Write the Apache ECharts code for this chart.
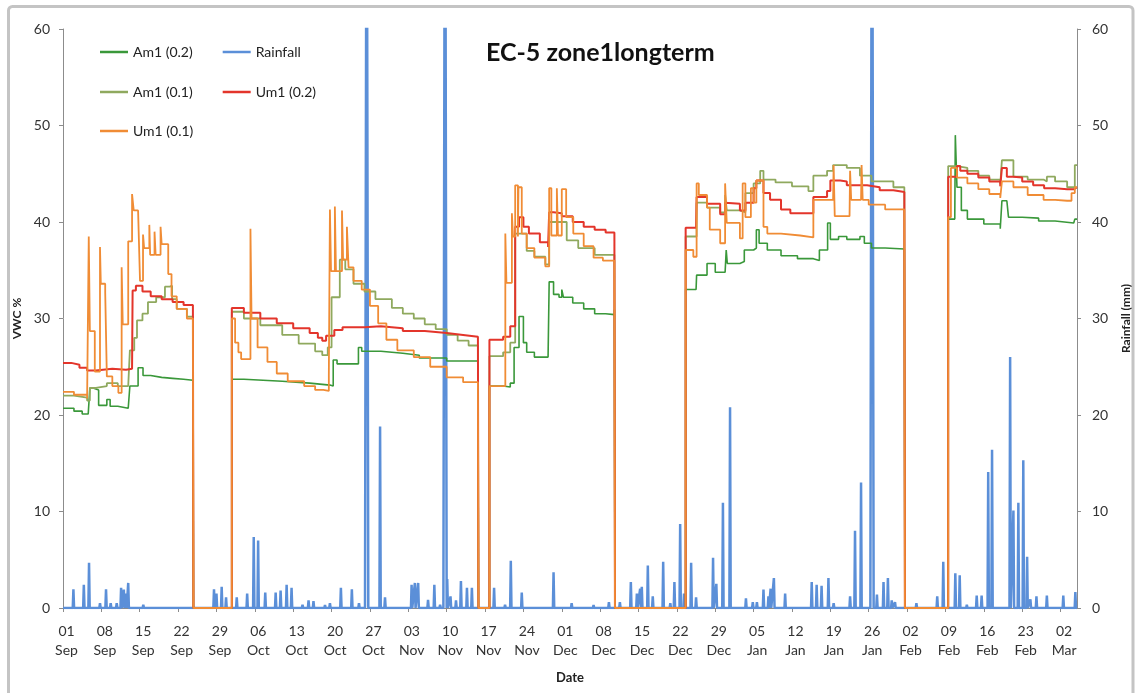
<!DOCTYPE html>
<html><head><meta charset="utf-8">
<script src="https://cdn.jsdelivr.net/npm/echarts@6/dist/echarts.min.js"></script>
<style>html,body{margin:0;padding:0;background:#fff}#c{width:1141px;height:693px}</style>
</head><body><div id="c"></div>
<script>
// x values are days since 01 Sep
const tickLabels = ['01\nSep','08\nSep','15\nSep','22\nSep','29\nSep','06\nOct','13\nOct','20\nOct','27\nOct','03\nNov','10\nNov','17\nNov','24\nNov','01\nDec','08\nDec','15\nDec','22\nDec','29\nDec','05\nJan','12\nJan','19\nJan','26\nJan','02\nFeb','09\nFeb','16\nFeb','23\nFeb','02\nMar'];

const am1_02 = [
 [0,20.7],[2,20.4],[3.5,20.1],[4.6,20.0],[4.9,22.8],[5.5,22.6],[6.5,21.0],[8,21.6],[8.6,20.9],[10,20.7],[11.9,20.7],[12.2,23.0],[13.7,24.9],[14.6,24.1],[16,23.9],[18,23.8],[20,23.7],[22,23.6],[23.7,23.5],[23.8,0],
 [30.8,23.7],[33,23.5],[40,23.3],[45,23.1],[48.7,23.0],[49.3,25.7],[50,25.3],[53.9,27.0],[54.5,26.6],[58,26.4],[62,26.2],[65,25.9],[70,25.6],[75.7,25.2],[75.8,0],
 [77.8,23.0],[80.3,22.9],[81.6,23.3],[82.3,27.0],[83.2,30.2],[84,27.5],[84.6,26.5],[86,26.0],[88.5,26.0],[88.7,33.8],[89.5,32.5],[90.5,32.2],[91,33.0],[91.3,32.2],[93,31.6],[95,31.0],[97,30.5],[99,30.4],[100.6,30.9],[100.7,0],
 [113.6,33.0],[115.5,33.0],[115.6,34.5],[117.5,35.7],[119,34.8],[120.8,34.7],[121,37.1],[121.2,35.7],[123.5,35.9],[124.3,37.1],[126,37.3],[126.5,39.2],[127,37.8],[128.5,37.1],[131,36.5],[134,36.2],[136.9,36.0],[138,37.1],[139.5,39.9],[140,38.2],[141.5,38.5],[143,38.2],[145.4,38.5],[146.2,37.8],[147.5,37.3],[150,37.2],[153.5,37.0],[153.6,0],
 [161.5,40.3],[162.7,40.3],[162.8,49.0],[163.1,43.6],[163.9,41.2],[165,40.3],[168,39.8],[171,39.3],[171.3,42.2],[172.2,42.0],[172.5,40.5],[175,40.4],[178,40.1],[181,39.9],[184.4,39.8],[184.6,40.3],[185,40.3]
];
const am1_01 = [
 [0,22.0],[2,21.8],[4.4,21.5],[4.9,22.8],[6,23.0],[8,23.3],[10,23.0],[11.9,23.2],[12.2,26.7],[13,28.0],[13.5,29.8],[14.5,30.5],[15.5,31.7],[17,32.2],[18.6,33.3],[19.5,33.4],[19.9,32.0],[20.75,31.0],[22.6,30.2],[23.7,30.0],[23.8,0],
 [30.8,30.7],[33,30.0],[36,29.3],[40,28.3],[43,27.4],[46,26.6],[47.3,26.2],[48.3,27.0],[49,32.2],[50.5,36.1],[51.5,35.1],[53,33.6],[55,32.8],[57,32.0],[60,31.1],[62,30.5],[64,30.0],[66,29.4],[68,28.9],[70,28.3],[72,27.7],[74,27.2],[75.7,26.9],[75.8,0],
 [77.8,26.1],[80.3,26.5],[81.6,27.5],[82.5,38.8],[84.6,37.0],[86,36.4],[88,35.6],[88.7,40.0],[91.9,38.1],[94,37.3],[97,36.6],[100.6,36.0],[100.7,0],
 [113.6,38.5],[115.6,42.0],[117.5,41.5],[119.9,41.0],[120.8,42.8],[121.1,41.2],[123.5,41.0],[124.5,43.0],[126,44.0],[127.2,45.3],[127.8,44.4],[130,44.1],[133,43.7],[136,43.2],[136.9,44.8],[139.4,45.3],[140.5,45.9],[143,45.6],[145.4,44.8],[147.5,44.2],[151.5,43.6],[153.5,43.5],[153.6,0],
 [161.5,45.8],[163.1,45.6],[165,45.3],[167,44.8],[169,44.4],[171,43.9],[171.3,46.4],[172.2,46.4],[173.4,44.7],[176,44.4],[178.9,44.2],[179.5,44.7],[181,44.2],[183.2,43.6],[184.6,45.9],[185,45.9]
];
const um1_02 = [
 [0,25.4],[1.5,25.2],[3,24.9],[4.4,24.6],[6,24.8],[9,24.7],[11.5,24.8],[12.6,25.0],[12.7,32.9],[13.3,33.4],[14.5,32.8],[16,32.3],[18,32.0],[20,31.7],[22,31.4],[23.7,31.2],[23.8,0],
 [30.8,31.1],[33,30.6],[36,30.0],[39,29.5],[42,29.0],[45,28.5],[46.5,28.0],[47.3,27.7],[48,28.2],[49.5,28.8],[51,29.1],[55,29.2],[58,29.0],[62,28.7],[66,28.5],[70,28.3],[73,28.1],[75.7,28.0],[75.8,0],
 [77.8,27.8],[80.3,28.1],[81.6,29.2],[82.5,39.5],[83.2,40.5],[84,39.5],[85,38.8],[87,37.9],[88.5,37.4],[88.7,41.0],[89.5,40.9],[91,40.6],[93,40.0],[95,39.5],[97,39.2],[99,38.9],[100.6,38.7],[100.7,0],
 [113.6,39.4],[115.5,39.4],[115.6,42.6],[117.5,41.9],[119.9,40.8],[120.8,42.0],[121.1,41.9],[123.5,41.2],[124.5,42.0],[126,43.5],[126.5,44.3],[127.8,43.0],[129,42.3],[131,41.3],[132.7,40.9],[134.5,40.9],[136.9,42.6],[139.4,43.2],[140,44.3],[141.8,44.2],[143,43.8],[145.4,43.8],[146.7,43.6],[149,43.3],[151.5,43.1],[153.5,42.9],[153.6,0],
 [161.5,44.7],[163.1,45.8],[163.7,45.3],[165,45.0],[167,44.6],[169,44.2],[171,43.7],[171.3,45.6],[172.2,44.7],[173.4,44.6],[175,44.2],[177,43.8],[179,43.5],[181,43.4],[183.2,43.4],[184.5,43.6],[185,43.6]
];
const um1_01 = [
 [0,22.4],[2,22.1],[4.4,21.7],[4.7,38.5],[4.9,28.7],[5.8,24.5],[6.75,37.4],[6.9,33.6],[7.7,32.7],[8.0,24.0],[9,23.0],[10.1,22.3],[10.7,35.3],[10.9,29.4],[11.9,38.0],[12.6,42.9],[12.9,41.2],[13.7,41.2],[14.05,33.9],[14.6,38.7],[14.8,37.3],[15.75,39.7],[15.9,36.6],[16.7,39.0],[16.9,36.6],[17.8,39.5],[18.0,37.7],[19.2,34.6],[19.8,32.3],[20.75,31.0],[22.6,30.0],[23.7,29.6],[23.8,0],
 [30.8,30.0],[31.4,27.5],[32,26.5],[32.5,25.8],[34.2,39.3],[34.4,30.0],[35.5,27.0],[37.3,25.5],[39,24.3],[41,23.5],[44,23.0],[46,22.6],[47.5,22.5],[48.5,24.0],[48.7,41.3],[48.9,34.9],[49.6,41.6],[49.8,34.9],[50.9,41.2],[51.1,36.1],[51.8,39.5],[52.1,35.3],[53,33.9],[54.5,33.0],[56,31.3],[57.5,29.5],[59,27.8],[61,26.7],[64,26.0],[67,25.0],[70,23.9],[73,23.4],[75.7,23.2],[75.8,0],
 [77.8,23.0],[80.7,38.8],[80.9,33.7],[81.9,40.9],[82.1,38.5],[82.5,43.8],[83.0,38.5],[83.1,43.6],[83.7,38.8],[84.6,37.3],[86,36.3],[88,35.4],[88.7,43.5],[89.1,38.6],[90.1,43.5],[90.3,38.6],[91,43.4],[91.8,40.5],[93.1,38.8],[95,37.5],[96.8,36.3],[98.5,36.0],[100.6,35.8],[100.7,0],
 [113.6,37.1],[115.0,36.4],[115.6,44.0],[116,42.8],[117.5,41.5],[118,39.2],[119.9,37.8],[120.8,44.0],[121.1,39.9],[123.5,38.3],[124,44.0],[124.5,40.5],[125.5,43.5],[126,42.0],[126.5,44.3],[127.2,44.3],[127.8,39.5],[128.5,38.8],[131,38.6],[134.5,38.4],[136.9,42.3],[140.5,42.3],[140.6,45.9],[140.8,40.6],[143.5,40.6],[143.6,45.3],[143.8,42.3],[145.6,42.3],[145.7,45.9],[145.9,42.3],[147,41.8],[150,41.3],[153.5,40.9],[153.6,0],
 [161.5,40.5],[162.0,45.6],[163.1,44.6],[165,44.0],[167,43.4],[169,42.9],[171,42.5],[171.3,44.2],[172.2,44.2],[173.4,43.6],[176,42.8],[178.9,42.3],[181,42.2],[183.2,42.2],[184,43.0],[184.6,43.6],[185,43.6]
];
const rainDays = [1.9,3.8,4.75,6.75,7.85,8.7,9.8,10.6,11.1,11.5,11.9,14.65,27.55,28.0,28.95,29.75,31.7,33.6,34.8,35.6,36.9,38.8,39.7,40.8,41.7,43.7,44.8,45.7,47.8,48.7,50.7,52.7,54.0,55.4,57.85,58.75,63.6,64.2,64.8,66.6,67.75,68.8,69.7,70.1,70.7,71.7,72.6,73.7,74.6,78.65,80.65,81.7,83.7,89.5,92.8,96.8,99.6,101.6,103.6,104.7,105.3,105.6,106.7,107.6,109.5,110.8,111.55,112.6,113.3,114.6,115.5,118.6,119.2,120.4,121.7,124.6,125.85,126.6,127.8,128.7,129.1,129.7,131.75,136.6,137.5,138.4,139.65,140.6,143.6,144.5,145.6,147.6,148.5,149.7,150.5,151.2,151.8,155.7,159.5,160.6,162.8,163.6,164.9,166.7,167.6,168.8,169.5,172.8,173.4,174.3,175.2,175.9,176.5,177.6,179.5,182.5,184.7];
const rainMm = [1.95,2.4,4.7,0.5,1.95,0.5,0.5,2.1,1.9,1.5,2.6,0.35,1.95,1.5,2.2,1.1,1.1,1.5,7.35,7.0,1.6,1.6,1.8,2.4,2.1,0.35,0.8,0.7,0.3,0.5,2.1,1.95,0.5,90,18.8,1.1,2.4,2.6,2.6,0.85,2.4,0.35,95,3.0,1.2,0.8,2.8,2.1,2.1,2.1,0.35,4.9,1.6,3.7,0.5,0.3,0.6,0.6,2.7,1.5,2.0,2.2,4.4,1.2,4.8,0.5,2.7,8.7,1.5,4.7,1.1,5.2,2.5,10.9,20.8,1.0,0.6,0.6,1.9,1.2,2.0,3.1,1.5,2.7,2.4,2.3,3.1,0.5,1.2,8.0,13.0,95,1.4,2.7,3.1,0.8,0.6,0.5,1.2,4.8,3.6,3.4,0.35,1.3,1.3,14.1,16.4,26.0,10.1,10.9,15.3,5.3,0.9,1.2,1.3,1.3,1.65];

const rainData = [[0,0]];
rainDays.forEach((d,i)=>{ const w = rainMm[i] > 50 ? 0.3 : 0.12; rainData.push([d-w,0],[d,rainMm[i]],[d+w,0]); });
rainData.push([185,0]);

const FONT = 'Lato';
const chart = echarts.init(document.getElementById('c'), null, {renderer:'canvas'});
const legendCommon = {icon:'rect', itemWidth:28, itemHeight:2.5, itemGap:30, selectedMode:false, padding:0,
  textStyle:{fontFamily:FONT, fontSize:14, color:'#222'}};
const axisCommon = {
  type:'value', min:0, max:60, interval:10,
  axisLine:{show:true, lineStyle:{color:'#8c8c8c', width:1}},
  axisTick:{show:true, length:4, lineStyle:{color:'#8c8c8c'}},
  splitLine:{show:false},
  nameLocation:'middle', nameRotate:90,
  nameTextStyle:{fontFamily:FONT, fontSize:12, fontWeight:'bold', color:'#222'}
};
const lineCommon = {type:'line', step:'end', showSymbol:false, symbol:'none', animation:false, yAxisIndex:0};
chart.setOption({
  animation:false,
  backgroundColor:'#fff',
  title:{text:'EC-5 zone1longterm', left:486, top:40, padding:0,
    textStyle:{fontFamily:FONT, fontSize:25, fontWeight:'bold', color:'#111'}},
  legend:[
    Object.assign({data:['Am1 (0.2)','Rainfall'], left:100, top:45}, legendCommon),
    Object.assign({data:['Am1 (0.1)','Um1 (0.2)'], left:100, top:85}, legendCommon),
    Object.assign({data:['Um1 (0.1)'], left:100, top:124}, legendCommon)
  ],
  grid:{left:63, right:64, top:29, bottom:85},
  xAxis:{type:'value', min:0, max:185, interval:7,
    name:'Date', nameLocation:'middle', nameGap:63,
    nameTextStyle:{fontFamily:FONT, fontSize:13, fontWeight:'bold', color:'#222'},
    axisLine:{show:true, onZero:false, lineStyle:{color:'#8c8c8c'}},
    axisTick:{show:true, length:4, lineStyle:{color:'#8c8c8c'}},
    splitLine:{show:false},
    axisLabel:{showMaxLabel:false, margin:14, lineHeight:19, padding:[0,0,0,7], fontFamily:FONT, fontSize:14, color:'#333',
      formatter:(v)=>{const i=v/7; return Number.isInteger(i)&&tickLabels[i]?tickLabels[i]:'';}}
  },
  yAxis:[
    Object.assign({}, axisCommon, {position:'left', name:'VWC %', nameGap:35,
      axisLabel:{margin:13, fontFamily:FONT, fontSize:14, color:'#333'}}),
    Object.assign({}, axisCommon, {position:'right', name:'Rainfall (mm)', nameGap:43,
      axisLabel:{margin:15, fontFamily:FONT, fontSize:14, color:'#333'}})
  ],
  graphic:[{type:'rect', shape:{x:8.5, y:6.5, width:1124.5, height:720, r:4}, silent:true,
    style:{fill:'none', stroke:'#c4c4c4', lineWidth:3}}],
  series:[
    {name:'Rainfall', type:'line', yAxisIndex:1, showSymbol:false, symbol:'none', data:rainData,
      color:'#5b8fd8', lineStyle:{width:2.5, color:'#5b8fd8'}, z:1},
    Object.assign({name:'Am1 (0.2)', data:am1_02, color:'#3a983a', lineStyle:{width:1.6, color:'#3a983a'}, z:2}, lineCommon),
    Object.assign({name:'Am1 (0.1)', data:am1_01, color:'#8fa95e', lineStyle:{width:1.8, color:'#8fa95e'}, z:3}, lineCommon),
    Object.assign({name:'Um1 (0.2)', data:um1_02, color:'#e3352b', lineStyle:{width:2, color:'#e3352b'}, z:4}, lineCommon),
    Object.assign({name:'Um1 (0.1)', data:um1_01, color:'#f08c35', lineStyle:{width:1.8, color:'#f08c35'}, z:5}, lineCommon)
  ]
});
</script></body></html>
